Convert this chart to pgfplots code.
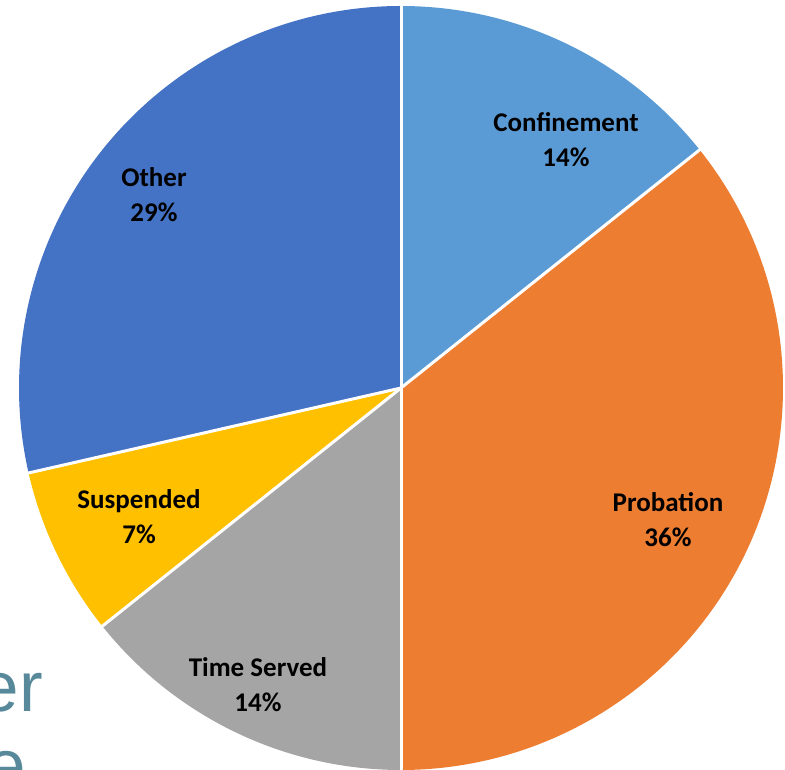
\documentclass[border=0pt]{standalone}
\usepackage{fontspec}
\setmainfont{Carlito}
\newfontfamily\bgfont{Liberation Sans}
\usepackage{pgfplots}
\usepackage{pgfplotstable}
\pgfplotsset{compat=1.18}
\definecolor{cConf}{HTML}{5B9BD5}
\definecolor{cProb}{HTML}{ED7D31}
\definecolor{cTime}{HTML}{A5A5A5}
\definecolor{cSusp}{HTML}{FFC000}
\definecolor{cOther}{HTML}{4472C4}
\definecolor{bgteal}{HTML}{57899A}
\pgfplotstableread[col sep=comma]{
label,value,lx,ly,col
Confinement,2,566,630,cConf
Probation,5,668,250,cProb
Time Served,2,258,85,cTime
Suspended,1,139,253,cSusp
Other,4,154,575,cOther
}\piedata
\begin{document}
\begin{tikzpicture}
\begin{axis}[at={(0,0)},anchor=south west,scale only axis,
  width=785pt,height=770pt,xmin=0,xmax=785,ymin=0,ymax=770,
  axis lines=none,clip=false]
\pgfplotsextra{%
  % background slide text partly hidden by the pie
  \node[anchor=base east,text=bgteal,inner sep=0pt,font=\bgfont\fontsize{71}{71}\selectfont] at (axis cs:43,58) {er};
  \node[anchor=base east,text=bgteal,inner sep=0pt,font=\bgfont\fontsize{71}{71}\selectfont] at (axis cs:26,-20) {e};
  \def\total{0}%
  \pgfplotsforeachungrouped \i in {0,...,4}{%
    \pgfplotstablegetelem{\i}{value}\of\piedata
    \pgfmathsetmacro\total{\total+\pgfplotsretval}%
  }%
  \def\cum{0}%
  \pgfplotsforeachungrouped \i in {0,...,4}{%
    \pgfplotstablegetelem{\i}{value}\of\piedata \let\v\pgfplotsretval
    \pgfplotstablegetelem{\i}{col}\of\piedata \let\c\pgfplotsretval
    \pgfmathsetmacro\a{90-360*\cum/\total}%
    \pgfmathsetmacro\b{90-360*(\cum+\v)/\total}%
    \fill[fill=\c] (axis cs:401,382) -- ++(\a:382pt) arc[start angle=\a,end angle=\b,radius=382pt] -- cycle;
    \pgfmathsetmacro\cum{\cum+\v}%
  }%
  \def\cum{0}%
  \pgfplotsforeachungrouped \i in {0,...,4}{%
    \pgfplotstablegetelem{\i}{value}\of\piedata \let\v\pgfplotsretval
    \pgfmathsetmacro\a{90-360*\cum/\total}%
    \draw[white,line width=3pt] (axis cs:401,382) -- ++(\a:383pt);
    \pgfmathsetmacro\cum{\cum+\v}%
  }%
  \pgfplotsforeachungrouped \i in {0,...,4}{%
    \pgfplotstablegetelem{\i}{value}\of\piedata \let\v\pgfplotsretval
    \pgfplotstablegetelem{\i}{label}\of\piedata \let\lab\pgfplotsretval
    \pgfplotstablegetelem{\i}{lx}\of\piedata \let\lx\pgfplotsretval
    \pgfplotstablegetelem{\i}{ly}\of\piedata \let\ly\pgfplotsretval
    \pgfmathtruncatemacro\p{round(100*\v/\total)}%
    \node[align=center,inner sep=0pt,font=\bfseries\fontsize{27}{35}\selectfont] at (axis cs:\lx,\ly) {\lab\\\p\%};
  }%
}
\end{axis}
\pgfresetboundingbox
\path[use as bounding box] (0,0) rectangle (785pt,770pt);
\end{tikzpicture}
\end{document}
